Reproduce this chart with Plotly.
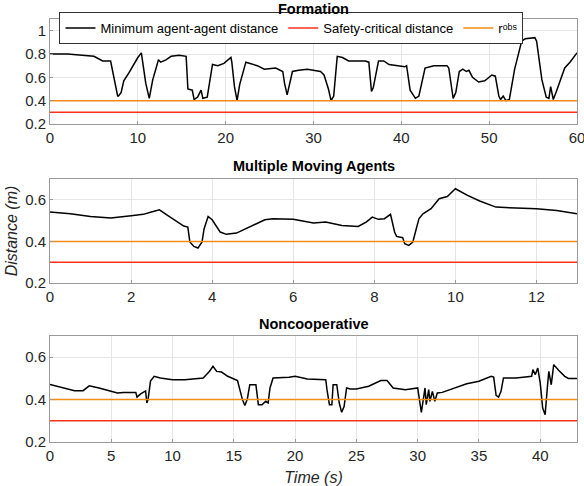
import plotly.graph_objects as go
from plotly.subplots import make_subplots

# Formation
t_form = [0, 2, 5, 6, 6.9, 7.1, 7.5, 7.7, 7.8, 8.1, 8.4, 9, 10, 10.4, 10.9, 11.3, 11.7, 12.35, 12.6, 13.2,
          13.8, 14.7, 15.5, 15.7, 16.2, 16.4, 16.8, 17.2, 17.4, 17.9, 18.5, 19.1, 19.8, 20.6, 20.7, 21.0,
          21.3, 21.6, 22.3, 23.6, 24.4, 25.7, 26.5, 26.7, 27.0, 27.6, 28.3, 29.3, 30.8, 31.2, 31.7, 32.0,
          32.3, 32.7, 33.3, 34, 35.9, 36.3, 36.6, 36.8, 37.4, 38, 38.6, 39.7, 40.4, 40.6, 41, 41.6, 42.0,
          42.7, 43.7, 45.2, 45.4, 45.9, 46.2, 46.6, 47, 47.4, 47.7, 48.1, 48.8, 49.5, 50.3, 50.7, 51.1,
          51.3, 51.6, 51.9, 52.3, 52.9, 53.7, 54.1, 55.2, 55.4, 56.0, 56.5, 56.8, 57.0, 57.3, 57.7, 58.6,
          59.2, 60]
d_form = [0.80, 0.80, 0.78, 0.74, 0.74, 0.67, 0.52, 0.44, 0.44, 0.47, 0.57, 0.64, 0.77, 0.81, 0.55, 0.42,
          0.58, 0.75, 0.73, 0.75, 0.78, 0.79, 0.78, 0.50, 0.49, 0.41, 0.43, 0.49, 0.42, 0.43, 0.71, 0.70,
          0.72, 0.77, 0.73, 0.52, 0.40, 0.54, 0.73, 0.70, 0.67, 0.68, 0.65, 0.55, 0.45, 0.65, 0.66, 0.67,
          0.65, 0.62, 0.50, 0.40, 0.44, 0.78, 0.77, 0.74, 0.74, 0.73, 0.48, 0.51, 0.74, 0.74, 0.71, 0.70,
          0.69, 0.70, 0.49, 0.42, 0.44, 0.68, 0.70, 0.70, 0.68, 0.42, 0.47, 0.65, 0.67, 0.65, 0.66, 0.60,
          0.56, 0.57, 0.62, 0.61, 0.44, 0.41, 0.44, 0.40, 0.41, 0.67, 0.91, 0.93, 0.94, 0.91, 0.58, 0.43,
          0.42, 0.52, 0.41, 0.49, 0.68, 0.73, 0.81]

# Multiple Moving Agents
t_multi = [0, 0.5, 1, 1.5, 2, 2.3, 2.5, 2.7, 2.9, 3.1, 3.3, 3.4, 3.45, 3.55, 3.65, 3.75, 3.8, 3.9, 4.0, 4.2,
           4.35, 4.6, 5, 5.3, 5.5, 6, 6.5, 6.8, 7.2, 7.6, 7.8, 7.95, 8.1, 8.25, 8.4, 8.5, 8.55, 8.7, 8.75,
           8.85, 8.95, 9.1, 9.2, 9.4, 9.6, 9.8, 10.0, 10.3, 10.6, 11, 11.5, 12, 12.5, 13]
d_multi = [0.541, 0.533, 0.52, 0.512, 0.523, 0.53, 0.541, 0.552, 0.525, 0.50, 0.474, 0.469, 0.397, 0.376,
           0.368, 0.397, 0.46, 0.52, 0.504, 0.445, 0.434, 0.44, 0.477, 0.504, 0.509, 0.506, 0.488, 0.493,
           0.477, 0.472, 0.493, 0.517, 0.506, 0.509, 0.53, 0.445, 0.424, 0.418, 0.389, 0.381, 0.397, 0.509,
           0.533, 0.557, 0.605, 0.616, 0.653, 0.621, 0.594, 0.565, 0.56, 0.557, 0.549, 0.533]

# Noncooperative
t_nonc = [0, 1, 2, 2.7, 3.2, 4, 5, 5.5, 6, 7, 7.1, 7.4, 7.8, 7.9, 8.0, 8.2, 8.5, 9, 10, 11, 12.5, 13, 13.3,
          13.6, 14, 14.5, 15.3, 15.5, 15.7, 15.9, 16.1, 16.3, 16.8, 17.0, 17.3, 17.6, 17.8, 17.95, 18.2,
          19.5, 20, 21, 22.5, 22.6, 22.8, 23, 23.1, 23.4, 23.6, 23.8, 24.0, 24.2, 24.5, 25, 26, 27, 27.5,
          28, 29, 30, 30.1, 30.3, 30.5, 30.6, 30.7, 30.9, 31.0, 31.2, 31.4, 31.6, 32, 34, 35, 36, 36.2,
          36.4, 36.6, 36.8, 37, 38, 38.6, 39.3, 39.4, 39.6, 39.8, 40.0, 40.2, 40.4, 40.6, 40.7, 40.9, 41.1,
          41.5, 42, 42.3, 43]
d_nonc = [0.471, 0.455, 0.442, 0.442, 0.465, 0.455, 0.439, 0.431, 0.434, 0.434, 0.412, 0.427, 0.441, 0.384,
          0.40, 0.487, 0.51, 0.502, 0.494, 0.494, 0.502, 0.533, 0.557, 0.533, 0.530, 0.51, 0.49, 0.447,
          0.40, 0.372, 0.403, 0.47, 0.47, 0.376, 0.376, 0.392, 0.384, 0.455, 0.502, 0.506, 0.51, 0.497,
          0.494, 0.447, 0.376, 0.376, 0.47, 0.47, 0.384, 0.34, 0.368, 0.455, 0.45, 0.45, 0.463, 0.49, 0.49,
          0.455, 0.447, 0.455, 0.408, 0.34, 0.416, 0.455, 0.376, 0.447, 0.392, 0.439, 0.392, 0.431, 0.434,
          0.475, 0.487, 0.51, 0.506, 0.42, 0.412, 0.439, 0.502, 0.502, 0.506, 0.51, 0.541, 0.518, 0.549,
          0.478, 0.36, 0.329, 0.47, 0.533, 0.47, 0.565, 0.538, 0.51, 0.50, 0.50]

safety_dist = 0.3
r_obs = 0.4

BLACK = "#000000"
RED = "#ff3319"
ORANGE = "#f28c17"
FONT = "Liberation Sans"

fig = make_subplots(rows=3, cols=1)

panels = [(t_form, d_form, 60), (t_multi, d_multi, 13), (t_nonc, d_nonc, 43)]
for i, (t, d, tmax) in enumerate(panels):
    row = i + 1
    first = i == 0
    fig.add_trace(go.Scatter(x=t, y=d, mode="lines", line=dict(color=BLACK, width=1.5),
                             name="Minimum agent-agent distance", showlegend=first), row=row, col=1)
    fig.add_trace(go.Scatter(x=[0, tmax], y=[safety_dist, safety_dist], mode="lines",
                             line=dict(color=RED, width=1.5),
                             name="Safety-critical distance", showlegend=first), row=row, col=1)
    # modifier letters keep the legend row as short as the others
    fig.add_trace(go.Scatter(x=[0, tmax], y=[r_obs, r_obs], mode="lines",
                             line=dict(color=ORANGE, width=1.5),
                             name="r\u1d52\u1d47\u02e2", showlegend=first), row=row, col=1)

H = 486.0
domains = [(19, 124), (179, 283), (336, 442)]
xranges = [[0, 60], [0, 13], [0, 43]]
xdticks = [10, 2, 5]
yranges = [[0.2, 1.1], [0.2, 0.7], [0.2, 0.7]]
titles = ["Formation", "Multiple Moving Agents", "Noncooperative"]
title_y = [8.5, 166, 324]

axis_style = dict(showline=True, linecolor="#9a9a9a", linewidth=1, mirror=True,
                  showgrid=True, gridcolor="#e6e6e6", gridwidth=1, zeroline=False,
                  ticks="inside", ticklen=3, tickcolor="#9a9a9a", automargin=False,
                  tickfont=dict(family=FONT, size=15, color="#262626"))

for i in range(3):
    top, bot = domains[i]
    fig.update_xaxes(domain=[0, 1], range=xranges[i], dtick=xdticks[i], tick0=0,
                     ticklabeloverflow="allow", row=i + 1, col=1, **axis_style)
    fig.update_yaxes(domain=[1 - bot / H, 1 - top / H], range=yranges[i], dtick=0.2, tick0=0.2,
                     row=i + 1, col=1, **axis_style)
    fig.add_annotation(text="<b>" + titles[i] + "</b>", xref="paper", x=0.5, yref="paper",
                       y=1 - title_y[i] / H, showarrow=False, xanchor="center", yanchor="middle",
                       font=dict(family=FONT, size=14.5, color="#000000"))

fig.update_yaxes(title_text="<i>Distance (m)</i>", title_standoff=3,
                 title_font=dict(family=FONT, size=16, color="#262626"), row=2, col=1)
fig.update_xaxes(title_text="<i>Time (s)</i>", title_standoff=8,
                 title_font=dict(family=FONT, size=16, color="#262626"), row=3, col=1)

fig.update_layout(
    width=584, height=486,
    margin=dict(l=50, r=7, t=0, b=0),
    paper_bgcolor="white", plot_bgcolor="white",
    font=dict(family=FONT, size=14, color="#262626"),
    legend=dict(orientation="h", x=0.018, xanchor="left", y=1 - 12 / H, yanchor="top",
                bgcolor="white", bordercolor="#333333", borderwidth=1,
                font=dict(family=FONT, size=13, color="#000000"),
                itemwidth=30, tracegroupgap=0),
)

fig.write_html("out.html", config={"displayModeBar": False},
               post_script="document.body.style.margin='0';document.body.style.overflow='hidden';")
